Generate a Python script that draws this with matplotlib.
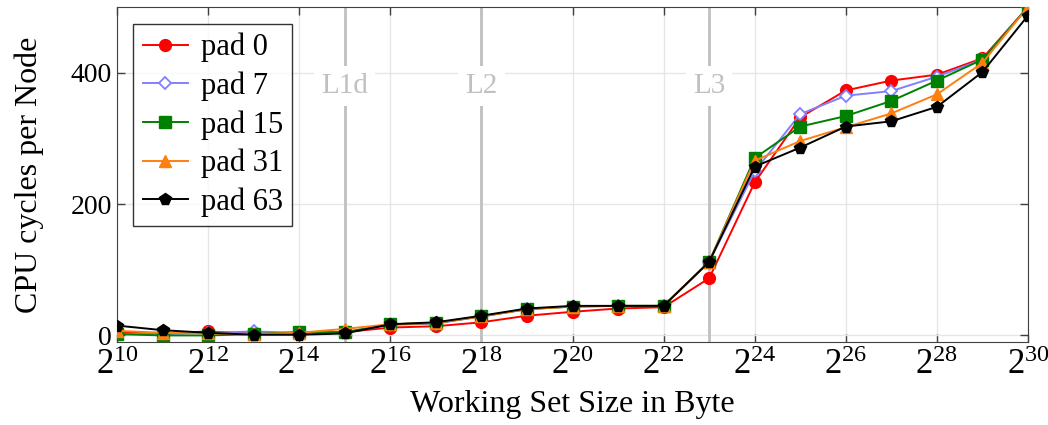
import matplotlib

matplotlib.use("Agg")
import matplotlib.pyplot as plt  # noqa: E402
from matplotlib.ticker import FixedLocator, FuncFormatter  # noqa: E402

plt.rcParams["font.family"] = ["Liberation Serif", "DejaVu Serif"]
plt.rcParams["mathtext.fontset"] = "custom"
plt.rcParams["mathtext.rm"] = "Liberation Serif"
plt.rcParams["mathtext.it"] = "Liberation Serif:italic"

# expoentes do tamanho do working set (2^k bytes)
expoentes = list(range(10, 31))

pad0 = [5, 3, 6, 3, 3, 5, 12, 14, 20, 30, 36, 41, 43, 87, 233, 332, 373, 388, 397, 422, 500]
pad7 = [2, 2, 4, 6, 4, 5, 16, 18, 29, 40, 44, 45, 45, 112, 250, 337, 365, 372, 394, 420, 500]
pad15 = [2, 0, 0, 2, 5, 5, 17, 19, 29, 40, 44, 45, 45, 112, 270, 318, 334, 357, 388, 420, 500]
pad31 = [7, 4, 3, 2, 4, 10, 17, 19, 29, 40, 44, 45, 45, 112, 266, 296, 317, 338, 367, 415, 500]
pad63 = [15, 8, 4, 1, 1, 3, 17, 20, 30, 41, 45, 45, 45, 112, 257, 286, 318, 326, 348, 401, 487]

series = [
    ("pad 0", pad0, "red", "o", "red"),
    ("pad 7", pad7, "#8080ff", "D", "white"),
    ("pad 15", pad15, "#008000", "s", "#008000"),
    ("pad 31", pad31, "#ff7f0e", "^", "#ff7f0e"),
    ("pad 63", pad63, "black", "p", "black"),
]

# limites de cache (expoente, rótulo)
caches = [(15, "L1d"), (18, "L2"), (23, "L3")]

fig = plt.figure(figsize=(10.48, 4.25), dpi=100)
ax = fig.add_axes([117 / 1048, 1 - 342 / 425, (1028 - 117) / 1048, (342 - 7) / 425])

for exp, nome in caches:
    ax.axvline(exp, color="#c0c0c0", lw=2, zorder=1)
    ax.text(exp, 380, nome, color="#c0c0c0", fontsize=21, ha="center", va="center",
            bbox=dict(facecolor="white", edgecolor="none", pad=5), zorder=2)

for nome, ys, cor, marc, preench in series:
    ax.plot(expoentes, ys, color=cor, marker=marc, markersize=8.5 if marc != "D" else 6.5,
            markerfacecolor=preench, markeredgecolor=cor, markeredgewidth=1.3 if marc == "D" else 1,
            lw=1.4, label=nome, zorder=3)

ax.set_xlim(10, 30)
ax.set_ylim(-10, 500)
ax.xaxis.set_major_locator(FixedLocator(range(10, 31, 2)))
ax.xaxis.set_major_formatter(FuncFormatter(lambda v, p: rf"$2^{{{int(v)}}}$"))
ax.set_yticks([0, 200, 400])
ax.tick_params(direction="in", length=6, width=1, colors="#404040", labelcolor="black",
               labelsize=20, top=True, right=True)
ax.tick_params(axis="x", labelsize=25, pad=5)
ax.grid(True, color="#e6e6e6", lw=1, zorder=0)
ax.set_axisbelow(True)
for sp in ax.spines.values():
    sp.set_color("#404040")

ax.set_xlabel("Working Set Size in Byte", fontsize=23, labelpad=6)
ax.set_ylabel("CPU cycles per Node", fontsize=23, labelpad=19)

leg = ax.legend(loc="upper left", bbox_to_anchor=(0.018, 0.95), fontsize=22, frameon=True,
                fancybox=False, handlelength=1.5, handletextpad=0.4, borderpad=0.3,
                labelspacing=0.3, borderaxespad=0)
leg.get_frame().set_edgecolor("black")
leg.get_frame().set_linewidth(1)

fig.savefig("out.png", dpi=100)
